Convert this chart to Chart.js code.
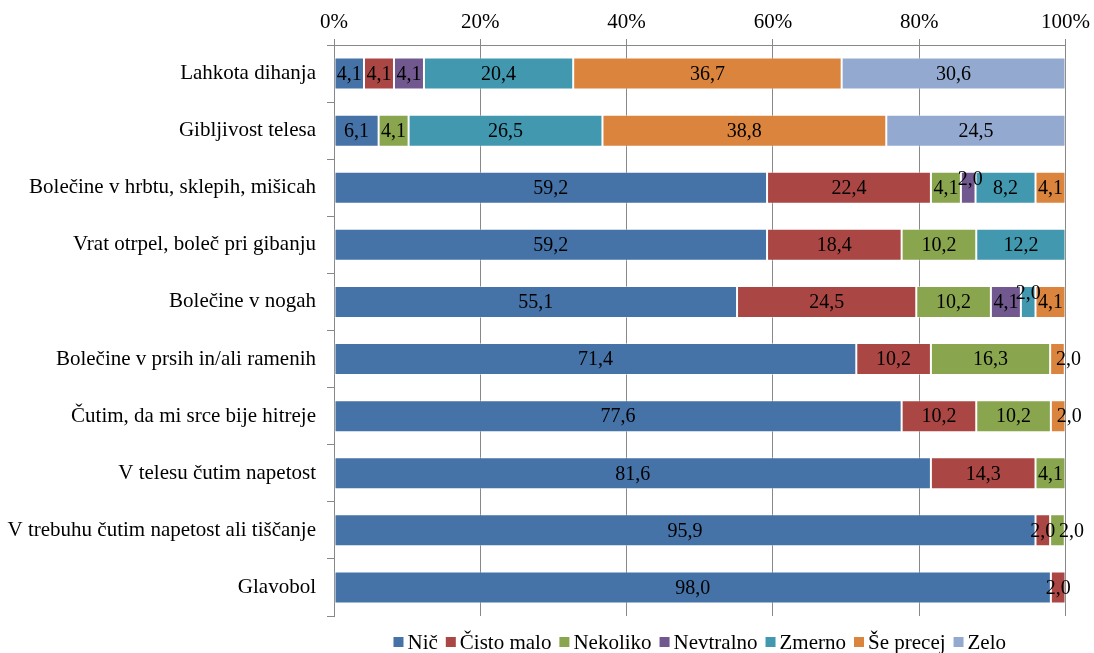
<!DOCTYPE html>
<html>
<head>
<meta charset="utf-8">
<script src="https://cdn.jsdelivr.net/npm/chart.js@4/dist/chart.umd.min.js"></script>
<style>
  html, body { margin: 0; padding: 0; background: #fff; }
  #wrap { width: 1094px; height: 653px; position: relative; }
</style>
</head>
<body>
<div id="wrap"><canvas id="c"></canvas></div>
<script>
// Symptom categories (rows, top to bottom)
const categories = [
  'Lahkota dihanja',
  'Gibljivost telesa',
  'Bolečine v hrbtu, sklepih, mišicah',
  'Vrat otrpel, boleč pri gibanju',
  'Bolečine v nogah',
  'Bolečine v prsih in/ali ramenih',
  'Čutim, da mi srce bije hitreje',
  'V telesu čutim napetost',
  'V trebuhu čutim napetost ali tiščanje',
  'Glavobol'
];

// Answer levels (stack order, left to right)
const seriesNames = ['Nič', 'Čisto malo', 'Nekoliko', 'Nevtralno', 'Zmerno', 'Še precej', 'Zelo'];

// Share of answers per level, in %
const nic        = [4.1, 6.1, 59.2, 59.2, 55.1, 71.4, 77.6, 81.6, 95.9, 98.0];
const cistoMalo  = [4.1, 0,   22.4, 18.4, 24.5, 10.2, 10.2, 14.3, 2.0,  2.0];
const nekoliko   = [0,   4.1, 4.1,  10.2, 10.2, 16.3, 10.2, 4.1,  2.0,  0];
const nevtralno  = [4.1, 0,   2.0,  0,    4.1,  0,    0,    0,    0,    0];
const zmerno     = [20.4, 26.5, 8.2, 12.2, 2.0, 0,    0,    0,    0,    0];
const sePrecej   = [36.7, 38.8, 4.1, 0,   4.1,  2.0,  2.0,  0,    0,    0];
const zelo       = [30.6, 24.5, 0,   0,   0,    0,    0,    0,    0,    0];

// Axis ticks
const xTicks = [0, 20, 40, 60, 80, 100];

const seriesValues = [nic, cistoMalo, nekoliko, nevtralno, zmerno, sePrecej, zelo];
const seriesColors = ['#4572A7', '#AA4643', '#89A54E', '#71588F', '#4198AF', '#DB843D', '#93A9CF'];

const FONT = "'Liberation Serif', 'Times New Roman', serif";
const GRID = '#888888';

// Nudges for labels that do not fit inside narrow segments: "row-series" -> [dx, dy]
const labelNudge = {
  '2-3': [2, -9],
  '4-4': [0, -9],
  '5-5': [11, 0],
  '6-5': [11, 0],
  '8-2': [14, 0]
};

const fmt = v => v.toFixed(1).replace('.', ',');

// Value labels centred in each segment
const valueLabels = {
  id: 'valueLabels',
  afterDatasetsDraw(chart) {
    const ctx = chart.ctx;
    ctx.save();
    ctx.font = '20px ' + FONT;
    ctx.fillStyle = '#000';
    ctx.textAlign = 'center';
    ctx.textBaseline = 'middle';
    chart.data.datasets.forEach((ds, si) => {
      const meta = chart.getDatasetMeta(si);
      meta.data.forEach((bar, ri) => {
        const v = ds.data[ri];
        if (!v) return;
        const n = labelNudge[ri + '-' + si] || [0, 0];
        const cx = (bar.x + bar.base) / 2 + n[0];
        const cy = bar.y + 1 + n[1];
        ctx.fillText(fmt(v), cx, cy);
      });
    });
    ctx.restore();
  }
};

// Legend row under the plot, centred on the plot area
const bottomLegend = {
  id: 'bottomLegend',
  afterDraw(chart) {
    const ctx = chart.ctx;
    const area = chart.chartArea;
    ctx.save();
    ctx.font = '21px ' + FONT;
    const box = 10, textGap = 4, itemGap = 8;
    const widths = seriesNames.map(s => ctx.measureText(s).width);
    let total = 0;
    widths.forEach((w, i) => { total += box + textGap + w + (i < widths.length - 1 ? itemGap : 0); });
    let x = (area.left + area.right) / 2 - total / 2;
    const yc = 642;
    ctx.textBaseline = 'middle';
    ctx.textAlign = 'left';
    seriesNames.forEach((s, i) => {
      ctx.fillStyle = seriesColors[i];
      ctx.fillRect(x, yc - box / 2, box, box);
      x += box + textGap;
      ctx.fillStyle = '#000';
      ctx.fillText(s, x, yc + 1);
      x += widths[i] + itemGap;
    });
    ctx.restore();
  }
};

const canvas = document.getElementById('c');
canvas.width = 1094; canvas.height = 653;

new Chart(canvas, {
  type: 'bar',
  data: {
    labels: categories,
    datasets: seriesNames.map((name, i) => ({
      label: name,
      data: seriesValues[i],
      backgroundColor: seriesColors[i],
      borderColor: 'rgba(255,255,255,0.45)',
      borderWidth: 1,
      borderSkipped: false,
      categoryPercentage: 0.8,
      barPercentage: 0.7
    }))
  },
  options: {
    indexAxis: 'y',
    responsive: false,
    animation: false,
    devicePixelRatio: 1,
    layout: { padding: { left: 0, right: 26, top: 0, bottom: 37 } },
    plugins: {
      legend: { display: false },
      tooltip: { enabled: false }
    },
    scales: {
      x: {
        position: 'top',
        stacked: true,
        min: 0,
        max: 100,
        afterBuildTicks(scale) { scale.ticks = xTicks.map(v => ({ value: v })); },
        afterFit(scale) { scale.height = 45; },
        ticks: {
          callback: v => v + '%',
          color: '#000',
          font: { family: FONT, size: 21 },
          padding: 4,
          maxRotation: 0
        },
        grid: { color: GRID, lineWidth: 1, tickLength: 6, drawTicks: true },
        border: { color: GRID, width: 1 }
      },
      y: {
        stacked: true,
        afterFit(scale) { scale.width = 334; },
        ticks: {
          color: '#000',
          font: { family: FONT, size: 21 },
          padding: 11
        },
        grid: { display: true, drawOnChartArea: false, offset: true, color: GRID, tickLength: 7 },
        border: { color: GRID, width: 1 }
      }
    }
  },
  plugins: [valueLabels, bottomLegend]
});
</script>
</body>
</html>
